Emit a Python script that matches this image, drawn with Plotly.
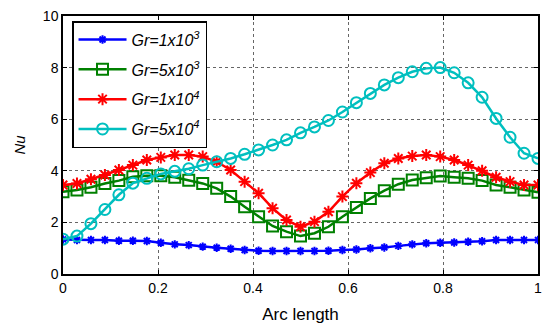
import numpy as np
import plotly.graph_objects as go

n_points = 35
arc = [i / (n_points - 1) for i in range(n_points)]

gr_1e3 = [1.34, 1.32, 1.32, 1.32, 1.29, 1.29, 1.28, 1.21, 1.15, 1.12,
          1.06, 1.02, 0.98, 0.93, 0.90, 0.89, 0.89, 0.89, 0.89, 0.90,
          0.93, 0.95, 1.00, 1.03, 1.09, 1.15, 1.19, 1.21, 1.22, 1.25,
          1.27, 1.32, 1.32, 1.32, 1.32]
gr_5e3 = [3.19, 3.26, 3.36, 3.51, 3.62, 3.77, 3.81, 3.81, 3.75, 3.63,
          3.51, 3.32, 3.00, 2.61, 2.22, 1.86, 1.64, 1.47, 1.58, 1.83,
          2.22, 2.58, 2.93, 3.23, 3.48, 3.64, 3.73, 3.80, 3.75, 3.71,
          3.62, 3.45, 3.36, 3.26, 3.17]
gr_1e4 = [3.45, 3.51, 3.67, 3.84, 4.03, 4.22, 4.42, 4.52, 4.61, 4.61,
          4.55, 4.35, 4.03, 3.58, 3.13, 2.55, 2.09, 1.83, 2.03, 2.41,
          3.00, 3.52, 3.93, 4.29, 4.48, 4.57, 4.61, 4.55, 4.42, 4.22,
          4.00, 3.75, 3.58, 3.45, 3.45]
gr_5e4 = [1.35, 1.47, 1.95, 2.50, 3.07, 3.52, 3.71, 3.88, 3.98, 4.08,
          4.22, 4.35, 4.48, 4.64, 4.81, 5.00, 5.20, 5.47, 5.70, 5.95,
          6.28, 6.64, 7.00, 7.33, 7.61, 7.84, 7.97, 8.00, 7.80, 7.41,
          6.85, 6.03, 5.30, 4.68, 4.48]

names = ["<i>Gr=1x10<sup>3</sup></i>", "<i>Gr=5x10<sup>3</sup></i>",
         "<i>Gr=1x10<sup>4</sup></i>", "<i>Gr=5x10<sup>4</sup></i>"]
series = [gr_1e3, gr_5e3, gr_1e4, gr_5e4]
colors = ["#0000FF", "#008000", "#FF0000", "#00BFBF"]
symbols = ["asterisk-open", "square-open", "asterisk-open", "circle-open"]
sizes = [7, 11, 10, 11]

fig = go.Figure()
for k, (name, ys, c, s, sz) in enumerate(zip(names, series, colors, symbols, sizes)):
    fig.add_trace(go.Scatter(
        x=arc, y=ys, name=name, mode="lines+markers", legendgroup=f"g{k}",
        line=dict(color=c, width=2.5),
        marker=dict(symbol=s, size=sz, color=c, line=dict(color=c, width=2)),
    ))

axis_common = dict(
    showline=True, linecolor="black", linewidth=1.5, mirror="ticks",
    ticks="inside", ticklen=4, tickcolor="black",
    showgrid=True, gridcolor="#666666", griddash="dot", gridwidth=1,
    zeroline=False,
    tickfont=dict(family="Liberation Sans, Arial", size=14, color="black"),
)

fig.update_layout(
    width=545, height=327,
    margin=dict(l=63, r=3, t=16, b=53),
    paper_bgcolor="white", plot_bgcolor="white",
    font=dict(family="Liberation Sans, Arial", color="black"),
    xaxis=dict(range=[0, 1], tickvals=[0, 0.2, 0.4, 0.6, 0.8, 1],
               ticktext=["0", "0.2", "0.4", "0.6", "0.8", "1"],
               title=dict(text="Arc length", font=dict(size=17), standoff=14),
               **axis_common),
    yaxis=dict(range=[0, 10], tickvals=[0, 2, 4, 6, 8, 10],
               title=dict(text="<i>Nu</i>", font=dict(size=15), standoff=14),
               **axis_common),
    legend=dict(x=0.019, y=0.98, xanchor="left", yanchor="top",
                bgcolor="white", bordercolor="black", borderwidth=1.5,
                font=dict(family="Liberation Sans, Arial", size=16),
                tracegroupgap=6, itemwidth=48),
    showlegend=True,
)

fig.write_html("out.html")
